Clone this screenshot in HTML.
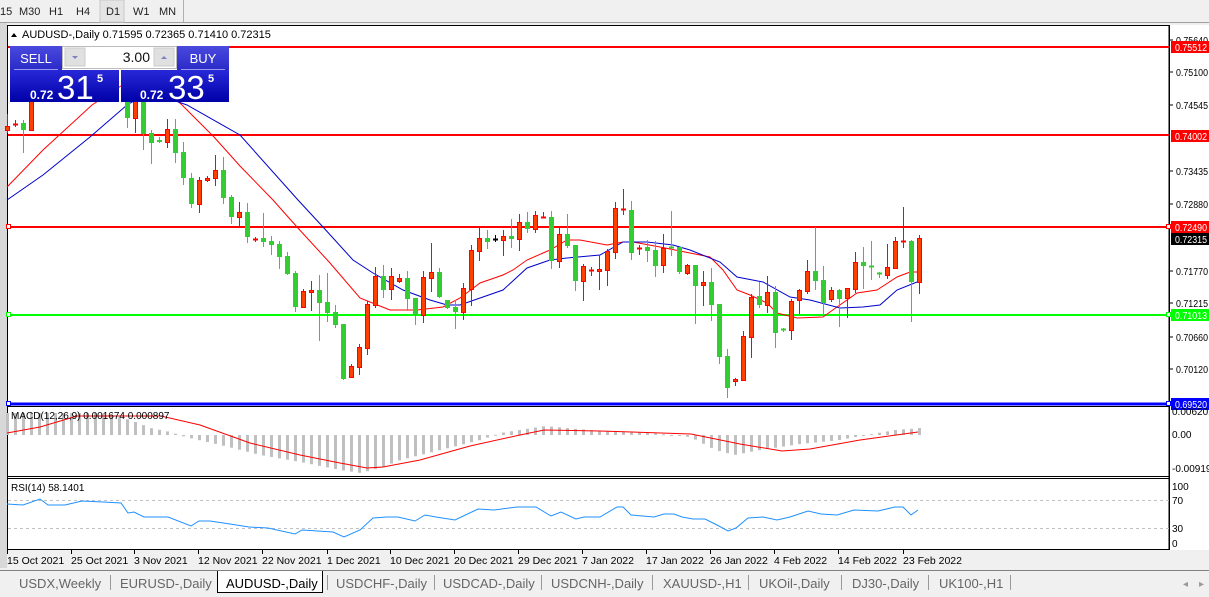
<!DOCTYPE html>
<html><head><meta charset="utf-8">
<style>
html,body{margin:0;padding:0;width:1209px;height:597px;overflow:hidden;background:#f0f0f0;font-family:"Liberation Sans",sans-serif;}
#wrap{position:relative;width:1209px;height:597px;}
</style></head><body><div id="wrap">
<svg id="s" width="1209" height="597" xmlns="http://www.w3.org/2000/svg" style="position:absolute;left:0;top:0;font-family:'Liberation Sans',sans-serif;">
<rect x="0" y="0" width="1209" height="23" fill="#f0f0f0"/>
<line x1="0" y1="22.5" x2="1209" y2="22.5" stroke="#a0a0a0"/>
<rect x="100" y="0" width="24" height="22" fill="#e4e4e4" stroke="#c8c8c8"/>
<line x1="183.5" y1="0" x2="183.5" y2="22" stroke="#b0b0b0"/>
<g font-size="11" fill="#222">
<text x="0" y="15">15</text><text x="19" y="15">M30</text><text x="49" y="15">H1</text><text x="76" y="15">H4</text><text x="106" y="15">D1</text><text x="133" y="15">W1</text><text x="159" y="15">MN</text>
</g>
<rect x="0" y="23" width="7" height="547" fill="#d8d8d8"/>
<rect x="7" y="25" width="1202" height="525" fill="#fff"/>
<g id="chart"></g>
</svg>
</div>
<script>
var NS="http://www.w3.org/2000/svg";var g=document.getElementById('chart');
function el(t,a,txt){var e=document.createElementNS(NS,t);for(var k in a)e.setAttribute(k,a[k]);if(txt!==undefined)e.textContent=txt;g.appendChild(e);return e;}
el('rect',{x:7.5,y:25.5,width:1161.5,height:524,fill:'none',stroke:'#000'});
el('line',{x1:7,y1:406.5,x2:1169,y2:406.5,stroke:'#000'});
el('line',{x1:7,y1:476.5,x2:1169,y2:476.5,stroke:'#000'});
el('line',{x1:7,y1:478.5,x2:1169,y2:478.5,stroke:'#000'});
el('line',{x1:1169.5,y1:25,x2:1169.5,y2:550,stroke:'#000'});
el('line',{x1:8,y1:47,x2:1169,y2:47,stroke:'#f00','stroke-width':2});
el('line',{x1:8,y1:135,x2:1169,y2:135,stroke:'#f00','stroke-width':2});
el('line',{x1:8,y1:227,x2:1169,y2:227,stroke:'#f00','stroke-width':2});
el('line',{x1:8,y1:315,x2:1169,y2:315,stroke:'#0f0','stroke-width':2});
el('line',{x1:8,y1:404,x2:1169,y2:404,stroke:'#00f','stroke-width':3});
[[227,'#f00'],[315,'#0f0'],[404,'#00f']].forEach(function(a){el('rect',{x:6.5,y:a[0]-2.5,width:4,height:4,fill:'#fff',stroke:a[1]});el('rect',{x:1166.5,y:a[0]-2.5,width:4,height:4,fill:'#fff',stroke:a[1]});});
var red=[[7,187],[43,150],[92,105],[130,80],[160,85],[182,105],[214,137],[240,166],[273,200],[297,227],[330,263],[360,298],[390,310],[417,310],[443,307],[460,298],[480,283],[503,275],[513,270],[527,260],[550,250],[567,240],[580,240],[607,245],[623,242],[633,242],[660,247],[690,253],[710,257],[723,270],[737,290],[750,295],[767,303],[777,313],[797,318],[823,317],[837,307],[857,293],[877,290],[897,277],[910,272],[920,272]];
var blue=[[7,200],[43,175],[90,137],[127,105],[150,92],[187,105],[240,135],[298,200],[323,227],[353,260],[373,273],[403,290],[430,300],[447,305],[460,305],[503,290],[527,268],[550,260],[567,258],[600,255],[623,242],[647,242],[673,245],[690,250],[720,262],[737,277],[763,282],[790,297],[810,300],[840,308],[863,307],[880,305],[897,290],[917,282]];
function pl(p){return p.map(function(q){return q.join(',');}).join(' ');}
el('polyline',{points:pl(red),fill:'none',stroke:'#f00','stroke-width':1});
el('polyline',{points:pl(blue),fill:'none',stroke:'#00c','stroke-width':1});
var C=[[7,114,126,130,132,'r'],[15,120,124,125,126,'r'],[23,120,123,130,152,'g'],[31,100,100,130,130,'r'],
[127,100,100,118,127,'g'],[135,100,100,118,132,'r'],[143,100,100,134,149,'g'],[151,130,133,143,163,'g'],[159,137,140,142,142,'g'],[167,119,129,142,147,'r'],[175,119,129,153,162,'g'],[183,142,152,178,184,'g'],[191,173,178,204,207,'g'],[199,177,180,204,212,'r'],[207,176,178,180,181,'r'],[215,155,170,178,185,'r'],[223,157,170,198,203,'g'],[231,195,197,217,223,'g'],[239,202,212,217,227,'r'],[247,203,212,237,242,'g'],[255,237,239,240,241,'r'],[263,213,238,242,246,'g'],[271,236,241,245,254,'g'],[279,241,244,257,268,'g'],[287,252,256,274,274,'g'],[295,271,273,307,311,'g'],[303,289,291,307,307,'r'],[311,281,290,292,310,'r'],[319,275,290,303,340,'g'],[327,273,302,313,321,'g'],[335,305,312,325,327,'g'],[343,324,324,379,379,'g'],[351,364,366,377,377,'r'],[359,344,347,367,374,'r'],[367,301,304,348,354,'r'],[375,267,276,305,307,'r'],[383,265,276,290,297,'g'],[391,268,276,289,299,'r'],[399,274,278,281,282,'r'],[407,271,278,299,310,'g'],[415,298,298,315,324,'g'],[423,271,277,315,322,'r'],[431,243,272,278,291,'r'],[439,268,272,297,297,'g'],[447,300,300,308,308,'g'],[455,300,307,312,328,'g'],[463,283,288,312,319,'r'],
[471,245,250,289,305,'r'],[479,227,238,251,260,'r'],[487,230,238,242,248,'g'],[495,235,239,239,241,'k'],[503,230,236,240,255,'r'],[511,219,236,239,247,'g'],[519,214,222,239,250,'r'],[527,212,222,229,232,'g'],[535,211,215,229,232,'r'],[543,212,217,217,217,'r'],[551,211,217,261,268,'g'],[559,228,234,261,267,'r'],[567,214,234,246,247,'g'],[575,245,245,281,290,'g'],[583,264,266,281,300,'r'],[591,267,270,270,275,'r'],[599,255,269,271,289,'r'],[607,249,251,270,285,'r'],[615,202,208,252,258,'r'],[623,189,209,209,214,'r'],[631,201,210,253,259,'g'],[639,245,248,248,254,'r'],[647,240,247,251,261,'g'],[655,241,250,266,276,'g'],[663,234,248,265,272,'r'],[671,211,247,247,255,'g'],[679,247,247,272,273,'g'],[687,264,265,273,274,'r'],[695,265,265,286,323,'g'],
[703,271,282,285,305,'r'],[711,268,282,305,320,'g'],[719,304,304,357,363,'g'],[727,349,356,388,397,'g'],[735,378,379,381,385,'r'],[743,331,336,380,380,'r'],[751,294,297,337,357,'r'],[759,282,296,305,307,'g'],[767,276,292,305,312,'r'],[775,286,292,333,347,'g'],[783,328,329,330,331,'g'],[791,299,301,330,339,'r'],[799,289,290,300,313,'r'],[807,260,271,291,293,'r'],[815,227,271,281,289,'g'],[823,266,280,303,313,'g'],[831,287,290,299,301,'r'],[839,289,290,299,326,'g'],[847,288,288,298,317,'r'],[855,252,262,289,292,'r'],[863,247,262,266,288,'g'],[871,241,266,266,279,'g'],[879,272,273,274,277,'g'],[887,244,267,275,278,'r'],[895,237,241,268,268,'r'],[903,207,241,241,247,'r'],[911,240,241,282,321,'g'],[919,235,238,282,293,'r']];
C.forEach(function(c){var x=c[0],col=c[5]=='r'?'#f00':(c[5]=='g'?'#33cc33':'#000');
el('line',{x1:x+0.5,y1:c[1],x2:x+0.5,y2:c[4]+1,stroke:col});
var h=c[3]-c[2];
if(h<2){el('line',{x1:x-2,y1:c[2]+0.5,x2:x+3,y2:c[2]+0.5,stroke:col,'stroke-width':2});}
else if(c[5]=='r'){el('rect',{x:x-1.5,y:c[2]+0.5,width:4,height:h,fill:'#ff4000',stroke:'#f00'});}
else{el('rect',{x:x-2,y:c[2],width:5,height:h,fill:col});}
});
var defs=document.createElementNS(NS,'defs');defs.innerHTML='<linearGradient id="b1" x1="0" y1="0" x2="0" y2="1"><stop offset="0" stop-color="#4a4ae0"/><stop offset="1" stop-color="#2a2ac8"/></linearGradient><linearGradient id="b2" x1="0" y1="0" x2="0" y2="1"><stop offset="0" stop-color="#2828d8"/><stop offset="1" stop-color="#0000a8"/></linearGradient>';g.appendChild(defs);
el('rect',{x:10,y:46,width:52,height:24,fill:'url(#b1)'});
el('rect',{x:177,y:46,width:52,height:24,fill:'url(#b1)'});
el('rect',{x:10,y:70,width:109,height:32,fill:'url(#b2)'});
el('rect',{x:121,y:70,width:108,height:32,fill:'url(#b2)'});
el('line',{x1:14,y1:69.5,x2:58,y2:69.5,stroke:'#9999ee'});
el('line',{x1:181,y1:69.5,x2:225,y2:69.5,stroke:'#9999ee'});
el('rect',{x:62.5,y:46.5,width:114,height:22,fill:'#fff',stroke:'#bbb'});
el('rect',{x:65,y:48,width:20,height:18,fill:'#e0e0e0',stroke:'#ccc'});
el('rect',{x:154,y:48,width:20,height:18,fill:'#e0e0e0',stroke:'#ccc'});
el('path',{d:'M72 56 L78 56 L75 59 Z',fill:'#8080c0'});
el('path',{d:'M161 59 L167 59 L164 56 Z',fill:'#8080c0'});
el('text',{x:150,y:62,'font-size':14,fill:'#111','text-anchor':'end'},'3.00');
el('text',{x:36,y:63,'font-size':13,fill:'#fff','text-anchor':'middle'},'SELL');
el('text',{x:203,y:63,'font-size':13,fill:'#fff','text-anchor':'middle'},'BUY');
el('text',{x:30,y:99,'font-size':12,'font-weight':'bold',fill:'#fff'},'0.72');
el('text',{x:57,y:99,'font-size':33,fill:'#fff'},'31');
el('text',{x:97,y:82,'font-size':11,'font-weight':'bold',fill:'#fff'},'5');
el('text',{x:140,y:99,'font-size':12,'font-weight':'bold',fill:'#fff'},'0.72');
el('text',{x:168,y:99,'font-size':33,fill:'#fff'},'33');
el('text',{x:208,y:82,'font-size':11,'font-weight':'bold',fill:'#fff'},'5');
el('path',{d:'M11 37 L14 33 L17 37 Z',fill:'#000'});
el('text',{x:22,y:38,'font-size':11,fill:'#000'},'AUDUSD-,Daily  0.71595 0.72365 0.71410 0.72315');
[[40,'0.75640'],[72,'0.75100'],[105,'0.74545'],[171,'0.73435'],[204,'0.72880'],[271,'0.71770'],[303,'0.71215'],[337,'0.70660'],[369,'0.70120']].forEach(function(a){el('line',{x1:1169,y1:a[0],x2:1173,y2:a[0],stroke:'#000'});el('text',{x:1176,y:a[0]+4,'font-size':10,fill:'#000',textLength:32,lengthAdjust:'spacingAndGlyphs'},a[1]);});
[[47,'0.75512','#f00','#fff'],[136,'0.74002','#f00','#fff'],[227,'0.72490','#f00','#fff'],[239,'0.72315','#000','#fff'],[315,'0.71013','#0f0','#fff'],[404,'0.69520','#00f','#fff']].forEach(function(a){el('rect',{x:1171,y:a[0]-6,width:38,height:12,fill:a[2]});el('text',{x:1175,y:a[0]+4,'font-size':10,fill:a[3],textLength:32,lengthAdjust:'spacingAndGlyphs'},a[1]);});
var hk=[[7,413],[100,413],[130,420],[150,428],[170,432],[185,437],[220,445],[260,455],[300,462],[340,470],[360,473],[380,468],[400,460],[440,450],[480,440],[500,433],[545,426],[600,431],[650,433],[690,437],[715,450],[734,455],[760,450],[800,444],[840,440],[860,436],[895,430],[920,428]];
function interp(k,x){for(var i=0;i<k.length-1;i++){if(x<=k[i+1][0]){var t=(x-k[i][0])/(k[i+1][0]-k[i][0]);return k[i][1]+t*(k[i+1][1]-k[i][1]);}}return k[k.length-1][1];}
for(var x=7;x<=919;x+=8){var y=interp(hk,x);var y0=Math.min(y,435),y1=Math.max(y,435);if(y1-y0<1)y1=y0+1;el('rect',{x:x-1,y:y0,width:3,height:y1-y0,fill:'#c0c0c0'});}
el('polyline',{points:pl([[7,433],[40,427],[77,416],[161,416],[200,425],[250,443],[300,455],[340,463],[367,468],[383,467],[420,460],[470,446],[520,435],[544,430],[600,431],[691,434],[740,444],[782,451],[810,449],[860,440],[918,432]]),fill:'none',stroke:'#f00'});
el('text',{x:11,y:419,'font-size':10,fill:'#000'},'MACD(12,26,9) 0.001674 0.000897');
[[415,'0.006201'],[438,'0.00'],[472,'-0.00919']].forEach(function(a){el('text',{x:1172,y:a[0],'font-size':10,fill:'#000'},a[1]);});
el('line',{x1:8,y1:500.5,x2:1169,y2:500.5,stroke:'#c0c0c0','stroke-dasharray':'3,3'});
el('line',{x1:8,y1:528.5,x2:1169,y2:528.5,stroke:'#c0c0c0','stroke-dasharray':'3,3'});
el('polyline',{points:pl([[7,504],[23,505],[40,499],[48,505],[65,505],[82,501],[103,502],[121,503],[128,513],[134,512],[144,517],[168,517],[191,526],[199,521],[210,521],[230,524],[249,527],[268,528],[295,534],[302,530],[318,531],[333,532],[344,537],[360,530],[373,518],[387,517],[398,517],[415,521],[425,515],[436,517],[455,520],[478,509],[494,510],[517,507],[536,507],[551,516],[561,512],[576,519],[584,517],[600,517],[617,507],[623,507],[631,515],[654,517],[664,514],[674,514],[682,517],[693,519],[705,519],[717,525],[728,531],[736,528],[748,518],[763,517],[777,520],[790,517],[808,511],[821,514],[837,515],[854,510],[878,511],[895,507],[903,507],[911,515],[918,510]]),fill:'none',stroke:'#1e90ff'});
el('text',{x:11,y:491,'font-size':10,fill:'#000'},'RSI(14) 58.1401');
[[490,'100'],[504,'70'],[532,'30'],[547,'0']].forEach(function(a){el('text',{x:1172,y:a[0],'font-size':10,fill:'#000'},a[1]);});
[[7,'15 Oct 2021'],[71,'25 Oct 2021'],[134,'3 Nov 2021'],[198,'12 Nov 2021'],[262,'22 Nov 2021'],[327,'1 Dec 2021'],[390,'10 Dec 2021'],[454,'20 Dec 2021'],[518,'29 Dec 2021'],[582,'7 Jan 2022'],[646,'17 Jan 2022'],[710,'26 Jan 2022'],[774,'4 Feb 2022'],[838,'14 Feb 2022'],[903,'23 Feb 2022']].forEach(function(a){el('line',{x1:a[0]+0.5,y1:550,x2:a[0]+0.5,y2:554,stroke:'#000'});el('text',{x:a[0],y:564,'font-size':10.5,fill:'#000'},a[1]);});
el('rect',{x:0,y:568,width:1209,height:29,fill:'#f0f0f0'});
el('line',{x1:0,y1:570.5,x2:1209,y2:570.5,stroke:'#808080'});
el('rect',{x:217,y:571,width:106,height:22,fill:'#fff'});
el('path',{d:'M217.5 571 V592.5 H322.5 V571',fill:'none',stroke:'#000'});
[[19,'USDX,Weekly'],[120,'EURUSD-,Daily'],[226,'AUDUSD-,Daily'],[336,'USDCHF-,Daily'],[443,'USDCAD-,Daily'],[551,'USDCNH-,Daily'],[663,'XAUUSD-,H1'],[759,'UKOil-,Daily'],[852,'DJ30-,Daily'],[939,'UK100-,H1']].forEach(function(a,i){el('text',{x:a[0],y:588,'font-size':13,fill:i==2?'#000':'#666'},a[1]);});
[110,327,434,541,652,748,841,928,1010].forEach(function(x){el('line',{x1:x+0.5,y1:575,x2:x+0.5,y2:590,stroke:'#999'});});
el('text',{x:1183,y:587,'font-size':10,fill:'#999'},'◂');
el('text',{x:1199,y:587,'font-size':10,fill:'#999'},'▸');
</script>
</body></html>
